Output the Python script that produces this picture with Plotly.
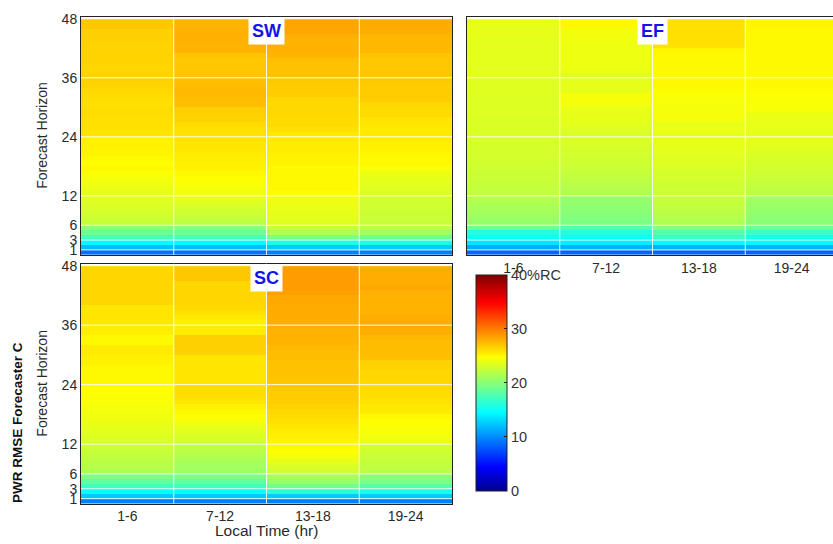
import plotly.graph_objects as go

# ---------------- data ----------------
horizons = list(range(1, 49))
time_labels = ["1-6", "7-12", "13-18", "19-24"]
time_pos = [1, 2, 3, 4]
y_ticks = [1, 3, 6, 12, 24, 36, 48]
cbar_ticks = [0, 10, 20, 30, 40]
cbar_text = ["0", "10", "20", "30", "40%RC"]

# PWR RMSE (%RC) by forecast horizon 1..48, one list per local-time block
SW_1_6 = [9.0, 12.0, 14.5, 17.5, 19.0, 20.0, 22.5, 22.8, 23.0, 23.2,
          23.4, 23.6, 23.8, 24.0, 24.2, 24.4, 24.6, 25.0, 24.8, 25.0,
          25.2, 25.2, 25.3, 25.3, 25.8, 25.9, 26.0, 26.0, 26.1, 26.1,
          26.0, 26.1, 26.2, 26.3, 26.5, 26.6, 26.5, 26.4, 26.4, 26.5,
          26.5, 26.5, 26.5, 26.6, 26.6, 26.6, 27.0, 27.0]
SW_7_12 = [9.0, 12.0, 14.5, 17.5, 19.0, 20.0, 22.0, 22.5, 22.8, 23.0,
           23.4, 23.8, 24.2, 24.4, 24.6, 24.8, 25.0, 25.3, 25.4, 25.5,
           25.6, 25.7, 25.8, 25.9, 25.9, 26.0, 26.2, 26.5, 26.6, 26.7,
           27.3, 27.4, 27.5, 27.5, 27.4, 27.3, 27.0, 27.0, 27.0, 27.0,
           27.1, 27.8, 27.8, 27.9, 27.9, 27.9, 27.8, 27.8]
SW_13_18 = [9.5, 12.5, 15.5, 19.5, 21.5, 22.5, 23.5, 23.7, 23.8, 23.9,
            24.0, 24.2, 24.8, 25.0, 25.0, 25.0, 25.0, 25.0, 25.2, 25.3,
            25.4, 25.5, 25.5, 25.6, 25.6, 26.0, 26.2, 26.2, 26.3, 26.3,
            26.3, 26.4, 26.7, 26.8, 26.8, 26.9, 27.2, 27.2, 27.2, 27.3,
            27.7, 27.8, 27.8, 27.8, 27.9, 28.3, 28.4, 28.4]
SW_19_24 = [9.5, 12.5, 15.5, 19.0, 21.0, 22.0, 22.5, 22.6, 22.7, 22.8,
            22.9, 23.0, 23.3, 23.5, 23.6, 23.8, 24.0, 24.5, 25.0, 25.0,
            25.1, 25.3, 25.4, 25.5, 25.6, 25.6, 25.7, 25.8, 26.2, 26.2,
            26.3, 26.7, 26.8, 26.8, 26.8, 26.9, 27.0, 27.0, 27.0, 27.0,
            27.1, 27.5, 27.6, 27.6, 27.7, 28.0, 28.1, 28.1]

EF_1_6 = [8.5, 11.3, 13.6, 15.0, 16.0, 19.0, 20.5, 20.8, 21.0, 21.3,
          21.5, 21.8, 22.2, 22.4, 22.5, 22.6, 22.7, 22.8, 22.9, 23.0,
          23.0, 23.1, 23.1, 23.2, 23.2, 23.3, 23.3, 23.3, 23.4, 23.4,
          23.4, 23.4, 23.5, 23.5, 23.5, 23.5, 23.6, 23.6, 23.6, 23.7,
          23.7, 23.7, 23.7, 23.7, 23.8, 23.8, 23.8, 23.8]
EF_7_12 = [8.5, 11.5, 14.0, 15.0, 16.0, 18.0, 19.5, 19.8, 20.0, 20.2,
           20.4, 20.6, 21.5, 21.8, 22.0, 22.2, 22.4, 22.6, 22.8, 22.9,
           23.0, 23.1, 23.2, 23.3, 23.3, 23.4, 23.7, 23.8, 23.8, 23.9,
           24.3, 24.4, 24.4, 23.8, 23.8, 23.7, 23.5, 24.0, 24.1, 24.1,
           24.1, 24.1, 24.1, 24.2, 24.2, 24.2, 25.0, 25.0]
EF_13_18 = [8.5, 11.5, 14.5, 17.0, 18.0, 20.0, 21.5, 21.8, 22.0, 22.2,
            22.4, 22.5, 22.7, 22.8, 22.9, 23.0, 23.1, 23.2, 23.4, 23.5,
            23.6, 23.7, 23.8, 23.8, 23.8, 23.9, 23.9, 24.3, 24.4, 24.4,
            24.4, 24.5, 24.6, 24.9, 25.0, 25.0, 25.0, 25.0, 25.0, 25.0,
            25.0, 25.1, 25.9, 26.0, 26.0, 26.0, 26.0, 26.0]
EF_19_24 = [8.5, 11.5, 14.5, 15.5, 17.0, 19.0, 20.0, 20.2, 20.4, 20.6,
            20.8, 21.0, 22.0, 22.2, 22.4, 22.6, 22.8, 23.0, 23.1, 23.2,
            23.3, 23.5, 23.7, 23.8, 23.8, 23.8, 23.9, 23.9, 24.0, 24.5,
            24.6, 24.6, 24.7, 24.9, 25.0, 25.0, 25.0, 25.0, 25.0, 25.0,
            25.0, 25.0, 25.0, 25.0, 25.0, 25.0, 25.1, 25.1]

SC_1_6 = [9.5, 12.5, 14.8, 17.0, 18.5, 19.5, 21.5, 21.8, 22.0, 22.3,
          22.5, 22.8, 23.2, 23.4, 23.6, 23.8, 24.0, 24.2, 24.3, 24.4,
          24.5, 24.6, 24.7, 24.8, 25.0, 25.0, 25.0, 25.0, 25.3, 25.3,
          25.5, 25.5, 25.0, 25.0, 25.4, 25.5, 25.7, 25.8, 25.8, 25.8,
          26.4, 26.4, 26.4, 26.4, 26.4, 26.4, 26.4, 26.4]
SC_7_12 = [9.5, 12.5, 14.8, 17.0, 18.5, 19.5, 20.8, 21.0, 21.3, 21.6,
           22.0, 22.3, 23.0, 23.3, 23.6, 23.9, 24.4, 24.8, 25.0, 25.3,
           25.8, 26.0, 26.1, 26.1, 25.8, 25.8, 25.8, 25.8, 25.8, 25.8,
           26.6, 26.6, 26.6, 26.6, 25.5, 25.5, 25.4, 25.6, 26.0, 26.3,
           26.4, 26.4, 26.4, 26.4, 26.4, 27.0, 27.0, 27.0]
SC_13_18 = [9.5, 12.5, 16.2, 19.0, 20.6, 21.3, 22.8, 23.3, 23.8, 24.3,
            24.8, 25.0, 25.2, 25.4, 25.5, 25.7, 26.0, 26.2, 26.3, 26.5,
            26.7, 26.8, 26.8, 26.9, 27.0, 27.1, 27.2, 27.2, 27.2, 27.4,
            27.4, 27.5, 27.8, 27.8, 27.8, 27.9, 28.0, 28.1, 28.1, 28.1,
            28.2, 28.2, 28.6, 28.7, 28.7, 28.7, 28.7, 28.7]
SC_19_24 = [9.5, 12.5, 15.5, 18.0, 19.5, 20.0, 22.0, 22.2, 22.4, 22.6,
            22.8, 23.0, 24.0, 24.3, 24.5, 24.6, 24.8, 25.0, 25.5, 25.7,
            25.9, 26.0, 26.1, 26.2, 26.3, 26.4, 26.4, 26.5, 26.6, 27.3,
            27.4, 27.4, 27.4, 27.6, 28.0, 28.0, 28.1, 28.0, 27.8, 27.8,
            27.8, 27.8, 27.9, 28.3, 28.0, 28.0, 28.0, 28.0]

panels = [
    ("SW", [SW_1_6, SW_7_12, SW_13_18, SW_19_24]),
    ("EF", [EF_1_6, EF_7_12, EF_13_18, EF_19_24]),
    ("SC", [SC_1_6, SC_7_12, SC_13_18, SC_19_24]),
]

# ---------------- styling ----------------
W, H = 833, 544
FONT = "Liberation Sans, Arial, sans-serif"
jet = [[0.0, "rgb(0,0,143)"], [0.111, "rgb(0,0,255)"], [0.365, "rgb(0,255,255)"],
       [0.619, "rgb(255,255,0)"], [0.873, "rgb(255,0,0)"], [1.0, "rgb(128,0,0)"]]


def px_x(p):
    return p / W


def px_y(p):
    return 1 - p / H


# row edges: horizon h occupies [h-1, h]
y_edges = [h - 1 for h in horizons] + [horizons[-1]]
x_edges = [t - 0.5 for t in time_pos] + [time_pos[-1] + 0.5]

fig = go.Figure()
axis_ids = [("x", "y"), ("x2", "y2"), ("x3", "y3")]
for (name, cols), (xa, ya) in zip(panels, axis_ids):
    z = [[c[i] for c in cols] for i in range(len(horizons))]
    fig.add_trace(go.Heatmap(
        x=x_edges, y=y_edges, z=z, xaxis=xa, yaxis=ya,
        coloraxis="coloraxis", zsmooth=False, hoverinfo="z"))

col_px = (452 - 81) / 4.0
ef_right = 0.5 + (833 - 467) / col_px

tickfont = dict(family=FONT, size=14, color="#2a2a2a")
common_x = dict(tickvals=time_pos, ticktext=time_labels, showgrid=False,
                zeroline=False, showline=True, linecolor="#222", linewidth=1,
                ticks="", tickfont=tickfont)
common_y = dict(tickvals=y_ticks, ticktext=[str(t) for t in y_ticks],
                range=[0, 48.4], showgrid=False, zeroline=False, showline=True,
                linecolor="#222", linewidth=1, ticks="", tickfont=tickfont)

fig.update_layout(
    width=W, height=H,
    margin=dict(l=0, r=0, t=0, b=0),
    paper_bgcolor="white", plot_bgcolor="white",
    showlegend=False,
    font=dict(family=FONT, size=14, color="#2a2a2a"),
    xaxis=dict(domain=[px_x(81), px_x(452)], anchor="y", range=[0.5, 4.5],
               mirror=True, showticklabels=False, **common_x),
    yaxis=dict(domain=[px_y(253), px_y(11)], anchor="x", mirror=True, **common_y),
    xaxis2=dict(domain=[px_x(467), 1.0], anchor="y2", range=[0.5, ef_right],
                mirror=True, showticklabels=True, **common_x),
    yaxis2=dict(domain=[px_y(253), px_y(11)], anchor="x2", mirror=False,
                showticklabels=False, **common_y),
    xaxis3=dict(domain=[px_x(81), px_x(452)], anchor="y3", range=[0.5, 4.5],
                mirror=True, showticklabels=True, **common_x),
    yaxis3=dict(domain=[px_y(506), px_y(262)], anchor="x3", mirror=True, **common_y),
    coloraxis=dict(
        colorscale=jet, cmin=0, cmax=40,
        colorbar=dict(
            x=px_x(476), xanchor="left", y=px_y(383), yanchor="middle",
            thickness=31, thicknessmode="pixels", len=216, lenmode="pixels",
            xpad=0, ypad=0, outlinewidth=1, outlinecolor="#222",
            tickvals=cbar_ticks, ticktext=cbar_text, ticks="inside",
            ticklen=3, tickcolor="#222",
            tickfont=dict(family=FONT, size=14.5, color="#333"))),
)

# white grid lines drawn on top of the heatmaps
shapes = []
for xa, ya in axis_ids:
    for t in y_ticks:
        shapes.append(dict(type="line", xref=xa + " domain", yref=ya,
                           x0=0, x1=1, y0=t, y1=t, layer="above",
                           line=dict(color="rgba(255,255,255,0.9)", width=1)))
    for b in x_edges[1:-1]:
        shapes.append(dict(type="line", xref=xa, yref=ya + " domain",
                           x0=b, x1=b, y0=0, y1=1, layer="above",
                           line=dict(color="rgba(255,255,255,0.9)", width=1)))
fig.update_layout(shapes=shapes)

annotations = []
for (name, _), (xa, ya) in zip(panels, axis_ids):
    annotations.append(dict(
        text="<b>%s</b>" % name, xref=xa, yref=ya + " domain",
        x=x_edges[2], y=1, xanchor="center", yanchor="top",
        showarrow=False, bgcolor="white", borderpad=3,
        font=dict(family=FONT, size=18, color="#1414e6")))

for cy in [(11 + 253) / 2.0, (262 + 506) / 2.0]:
    annotations.append(dict(
        text="Forecast Horizon", xref="paper", yref="paper",
        x=px_x(42), y=px_y(cy), xanchor="center", yanchor="middle",
        textangle=-90, showarrow=False,
        font=dict(family=FONT, size=14, color="#2a2a2a")))

annotations.append(dict(
    text="<b>PWR RMSE Forecaster C</b>", xref="paper", yref="paper",
    x=px_x(18), y=px_y(424), xanchor="center", yanchor="middle",
    textangle=-90, showarrow=False,
    font=dict(family=FONT, size=13.5, color="#111")))

annotations.append(dict(
    text="Local Time (hr)", xref="paper", yref="paper",
    x=px_x((81 + 452) / 2.0), y=px_y(533), xanchor="center", yanchor="middle",
    showarrow=False, font=dict(family=FONT, size=15.5, color="#2a2a2a")))

fig.update_layout(annotations=annotations)

fig.write_html(
    "out.html",
    config={"displayModeBar": False},
    post_script="document.body.style.margin='0';document.body.style.overflow='hidden';")
